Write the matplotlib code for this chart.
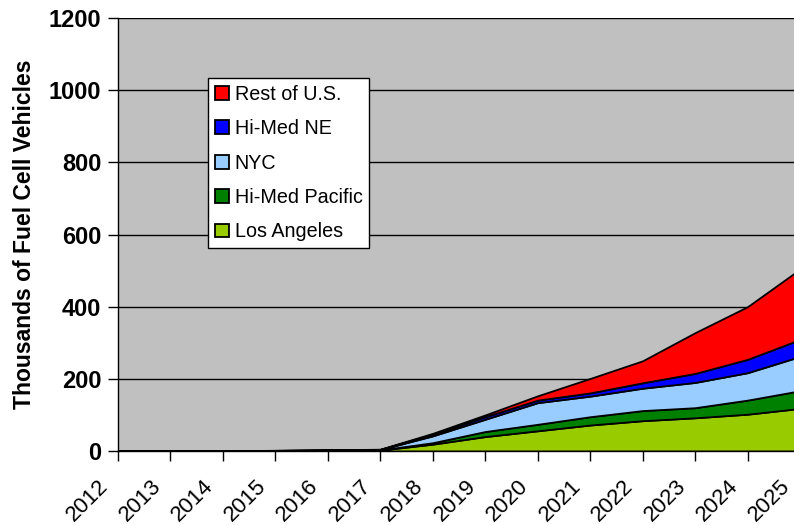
import matplotlib
matplotlib.use("Agg")
import matplotlib.pyplot as plt
import matplotlib.transforms as mtransforms
import numpy as np

years = [2012, 2013, 2014, 2015, 2016, 2017, 2018, 2019, 2020, 2021, 2022, 2023, 2024, 2025]
los_angeles = [0, 0, 0, 1, 1.5, 2.5, 19, 40, 56, 72, 84, 92, 102, 118]
hi_med_pacific = [0, 0, 0, 0.2, 0.5, 0.5, 4, 14, 18, 23, 28, 28, 39, 49]
nyc = [0, 0, 0, 0.3, 0.5, 1, 19, 34, 60, 57, 62, 70, 76, 95]
hi_med_ne = [0, 0, 0, 0.2, 0.3, 0.5, 4, 7, 7, 9, 15, 25, 37, 47]
rest_of_us = [0, 0, 0.5, 0.3, 0.2, 0.5, 3, 5, 12, 40, 61, 113, 146, 195]

series_names = ["Los Angeles", "Hi-Med Pacific", "NYC", "Hi-Med NE", "Rest of U.S."]
series_colors = ["#99CC00", "#008000", "#99CCFF", "#0000FF", "#FF0000"]

plt.rcParams['font.family'] = ['Liberation Sans', 'DejaVu Sans']

fig = plt.figure(figsize=(7.94, 5.25), dpi=100)
ax = fig.add_axes([118/794, 1 - 451/525, (800 - 118)/794, (451 - 18)/525])
ax.set_facecolor("#C0C0C0")

x = np.arange(len(years))
polys = ax.stackplot(x, los_angeles, hi_med_pacific, nyc, hi_med_ne, rest_of_us,
                     colors=series_colors, labels=series_names,
                     edgecolor="black", linewidth=1.3, zorder=3)

ax.set_xlim(0, len(years) - 1)
ax.set_ylim(0, 1200)
ax.set_yticks(np.arange(0, 1201, 200))
ax.set_xticks(x)
ax.yaxis.grid(True, color="black", linewidth=1.0, zorder=1)
ax.set_axisbelow(True)
ax.tick_params(axis="both", direction="out", length=7, width=1, color="black")
ax.tick_params(axis="x", pad=4)
ax.tick_params(axis="y", pad=5)
ax.set_xticklabels([str(y) for y in years], rotation=45, ha="right", va="top",
                   rotation_mode="anchor", fontsize=16)
offset = mtransforms.ScaledTranslation(-20/100, -9/100, fig.dpi_scale_trans)
for lab in ax.get_xticklabels():
    lab.set_transform(lab.get_transform() + offset)
for lab in ax.get_yticklabels():
    lab.set_fontweight("bold")
    lab.set_fontsize(17)
for s in ["top", "right"]:
    ax.spines[s].set_visible(False)
for s in ["left", "bottom"]:
    ax.spines[s].set_color("black")
    ax.spines[s].set_linewidth(1.0)
    ax.spines[s].set_zorder(4)

ax.set_ylabel("Thousands of Fuel Cell Vehicles", fontsize=16.5, fontweight="bold", labelpad=9)

handles, labels = ax.get_legend_handles_labels()
leg = ax.legend(handles[::-1], labels[::-1], loc="upper left",
                bbox_to_anchor=((208 - 118) / 682, (451 - 78) / 433),
                fontsize=14.2, frameon=True, fancybox=False, framealpha=1,
                edgecolor="black", facecolor="white",
                handlelength=0.7, handleheight=0.7, handletextpad=0.3,
                labelspacing=0.78, borderpad=0.35, borderaxespad=0)
leg.get_frame().set_linewidth(1.0)
leg.set_zorder(5)

fig.savefig("out.png", dpi=100, facecolor="white")
